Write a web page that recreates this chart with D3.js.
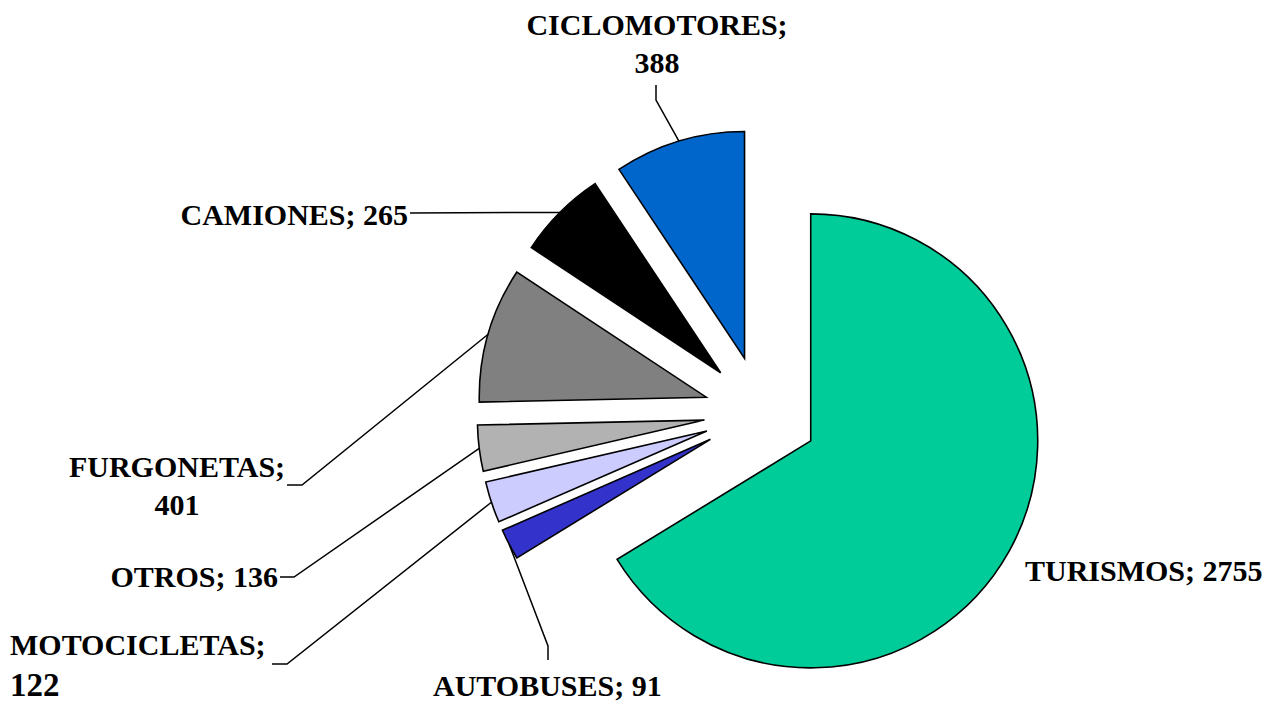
<!DOCTYPE html>
<meta charset="utf-8">
<style>
 body { margin: 0; background: #fff; }
 .arc path { stroke: #000; stroke-width: 1.6; stroke-linejoin: miter; }
 .lbl text { font: bold 30px "Liberation Serif", "Times New Roman", serif; fill: #000; }
 .lead { fill: none; stroke: #000; stroke-width: 1.5; }
</style>
<body>
<svg width="1275" height="704"></svg>
<script src="https://d3js.org/d3.v7.min.js"></script>
<script>

 // vehicle types, clockwise from 12 o'clock
 var categories = ["TURISMOS", "AUTOBUSES", "MOTOCICLETAS", "OTROS", "FURGONETAS", "CAMIONES", "CICLOMOTORES"];
 var values = [2755, 91, 122, 136, 401, 265, 388];
 var colors = ["#00cc99", "#3333cc", "#ccccff", "#b2b2b2", "#808080", "#000000", "#0066cc"];

 // label placement: text lines, anchor, x, first baseline, leader elbow points (label side)
 var labelLayout = [
     { split: false, anchor: "start",  x: 1025, y: 581, leader: null },
     { split: false, anchor: "start",  x: 433,  y: 696, leader: [[548, 646], [548, 660]] },
     { split: true,  anchor: "start",  x: 10,   y: 655, big: true, leader: [[287, 664], [272, 664]] },
     { split: false, anchor: "end",    x: 278,  y: 587, leader: [[294, 577], [280, 577]] },
     { split: true,  anchor: "middle", x: 177,  y: 477, leader: [[302, 485], [287, 485]] },
     { split: false, anchor: "end",    x: 408,  y: 225, leader: [[410, 213]] },
     { split: true,  anchor: "middle", x: 657,  y: 35,  leader: [[656, 100], [656, 85]] }
 ];

 var svg = d3.select("svg"),
     cx = 761, cy = 413,
     radius = 227,
     explode = 57;

 var data = categories.map(function(c, i) { return { name: c, value: values[i], color: colors[i], layout: labelLayout[i] }; });

 var pie = d3.pie().sort(null).value(function(d) { return d.value; });
 var path = d3.arc().innerRadius(0).outerRadius(radius);

 function offset(d, r) {
     var a = (d.startAngle + d.endAngle) / 2;
     return [Math.sin(a) * r, -Math.cos(a) * r];
 }

 var g = svg.append("g").attr("transform", "translate(" + cx + "," + cy + ")");
 var arcs = pie(data);

 g.selectAll(".arc")
  .data(arcs)
  .enter().append("g")
  .attr("class", "arc")
  .attr("transform", function(d) { return "translate(" + offset(d, explode) + ")"; })
  .append("path")
  .attr("d", path)
  .attr("fill", function(d) { return d.data.color; });

 // leader lines from arc midpoint to label
 arcs.forEach(function(d) {
     var L = d.data.layout;
     if (!L.leader) return;
     var o = offset(d, explode + radius);
     var pts = [[cx + o[0], cy + o[1]]].concat(L.leader);
     svg.append("path").attr("class", "lead").attr("d", d3.line()(pts));
 });

 var lbl = svg.append("g").attr("class", "lbl");
 arcs.forEach(function(d) {
     var L = d.data.layout;
     if (L.split) {
         lbl.append("text").attr("x", L.x).attr("y", L.y).attr("text-anchor", L.anchor).text(d.data.name + ";");
         var t = lbl.append("text").attr("x", L.x).attr("y", L.y + (L.big ? 41 : 38)).attr("text-anchor", L.anchor).text(d.data.value);
         if (L.big) t.style("font-size", "33px");
     } else {
         lbl.append("text").attr("x", L.x).attr("y", L.y).attr("text-anchor", L.anchor).text(d.data.name + "; " + d.data.value);
     }
 });

</script>
</body>
